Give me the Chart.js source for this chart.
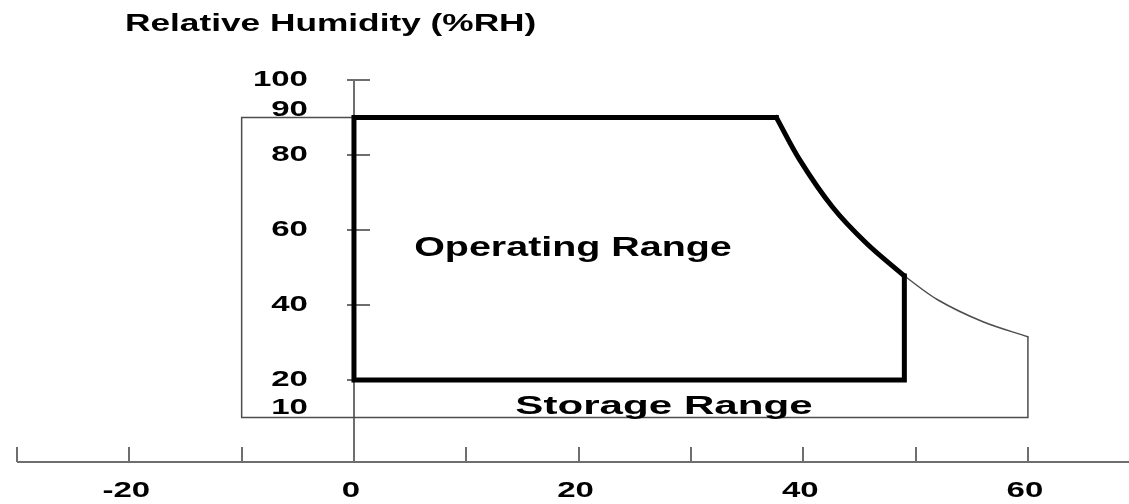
<!DOCTYPE html>
<html>
<head>
<meta charset="utf-8">
<title>Relative Humidity (%RH)</title>
<script src="https://cdn.jsdelivr.net/npm/chart.js@4"></script>
<style>
  html, body { margin: 0; padding: 0; background: #fff; }
  #wrap { width: 1129px; height: 504px; }
</style>
</head>
<body>
<div id="wrap"><canvas id="rh-chart"></canvas></div>
<script>
// Operating / storage envelope: temperature (°C) vs relative humidity (%RH)

// ── data ──────────────────────────────────────────────────────────────────────
const X_TICKS  = [-30, -20, -10, 0, 10, 20, 30, 40, 50, 60];
const X_LABELS = [-20, 0, 20, 40, 60];
const Y_TICKS  = [100, 80, 60, 40, 20];
const Y_LABELS = [100, 90, 80, 60, 40, 20, 10];

// operating range: straight edges + the dew-point curve (thick)
const opEdgeTemp  = [49, 49, 0, 0, 37.6];
const opEdgeRH    = [47.7, 20, 20, 90, 90];
const opCurveTemp = [37.6, 39.7, 42.6, 45.6, 49];
const opCurveRH   = [90, 78.6, 66.1, 56.5, 47.7];

// storage range: the parts not covered by the operating range (thin)
const stCurveTemp = [49, 52, 56, 60];
const stCurveRH   = [47.7, 41.3, 35.5, 31.5];
const stEdgeTemp  = [60, 60, -10, -10, 0];
const stEdgeRH    = [31.5, 10, 10, 90, 90];

const TITLE = 'Relative Humidity (%RH)';
const REGION_LABELS = ['Operating Range', 'Storage Range'];
const REGION_AT = [[19.5, 54.9], [27.6, 12.9]];

// ── helpers ───────────────────────────────────────────────────────────────────
const FONT = '"Liberation Sans", Arial, sans-serif';
const STRETCH = 1.5; // source lettering is ~1.5x wider than plain Arial Bold

function toPoints(xs, ys) {
    return xs.map((x, i) => ({ x, y: ys[i] }));
}

function outline(data, thick, smooth) {
    return {
        data,
        showLine: true,
        borderColor: thick ? '#000' : '#4d4d4d',
        borderWidth: thick ? 5 : 1.5,
        borderJoinStyle: 'miter',
        borderCapStyle: smooth ? 'round' : (thick ? 'square' : 'butt'),
        tension: smooth ? 0.35 : 0,
        pointRadius: 0,
        fill: false,
        order: thick ? 0 : 1
    };
}

function stretchText(ctx, text, x, y, size, sx, align) {
    ctx.save();
    ctx.font = `bold ${size}px ${FONT}`;
    ctx.fillStyle = '#000';
    ctx.textAlign = align;
    ctx.textBaseline = 'middle';
    ctx.translate(x, y);
    ctx.scale(sx, 1);
    ctx.fillText(text, 0, 0);
    ctx.restore();
}

// ── axes through the origin + labels ─────────────────────────────────────────
const crossAxes = {
    id: 'crossAxes',
    beforeDatasetsDraw(chart) {
        const { ctx, chartArea, scales: { x, y } } = chart;
        const x0 = Math.round(x.getPixelForValue(0));
        const base = Math.round(chartArea.bottom);
        ctx.save();
        ctx.strokeStyle = '#6e6e6e';
        ctx.lineWidth = 2;
        ctx.beginPath();
        ctx.moveTo(x.getPixelForValue(X_TICKS[0]), base);
        ctx.lineTo(chartArea.right, base);
        ctx.moveTo(x0, y.getPixelForValue(Y_TICKS[0]));
        ctx.lineTo(x0, base);
        X_TICKS.forEach(v => {
            const px = Math.round(x.getPixelForValue(v));
            ctx.moveTo(px, base);
            ctx.lineTo(px, base - 15);
        });
        Y_TICKS.forEach(v => {
            const py = Math.round(y.getPixelForValue(v));
            ctx.moveTo(x0 - 7, py);
            ctx.lineTo(x0 + 16, py);
        });
        ctx.stroke();
        ctx.restore();
    },
    afterDatasetsDraw(chart) {
        const { ctx, chartArea, scales: { x, y } } = chart;
        const x0 = x.getPixelForValue(0);
        const base = chartArea.bottom;

        // 90 and 10 sit on the storage outline, so their labels ride a bit higher
        const nudge = { 90: -7, 10: -9 };
        Y_LABELS.forEach(v => {
            stretchText(ctx, String(v), x0 - 46, y.getPixelForValue(v) + (nudge[v] || 0), 22, STRETCH, 'right');
        });
        X_LABELS.forEach(v => {
            stretchText(ctx, String(v), x.getPixelForValue(v) - 3, base + 29, 22, STRETCH, 'center');
        });

        stretchText(ctx, TITLE, 125, 25, 23.5, STRETCH, 'left');

        REGION_LABELS.forEach((txt, i) => {
            const [tx, ty] = REGION_AT[i];
            const big = i === 0 ? [27, 1.46] : [26.5, 1.59];
            stretchText(ctx, txt, x.getPixelForValue(tx), y.getPixelForValue(ty), big[0], big[1], 'center');
        });
    }
};

// ── chart ─────────────────────────────────────────────────────────────────────
const ctx = document.getElementById('rh-chart').getContext('2d');
new Chart(ctx, {
    type: 'scatter',
    data: {
        datasets: [
            { label: 'Operating Range', ...outline(toPoints(opEdgeTemp, opEdgeRH), true, false) },
            { label: 'Operating Range curve', ...outline(toPoints(opCurveTemp, opCurveRH), true, true) },
            { label: 'Storage Range curve', ...outline(toPoints(stCurveTemp, stCurveRH), false, true) },
            { label: 'Storage Range', ...outline(toPoints(stEdgeTemp, stEdgeRH), false, false) }
        ]
    },
    options: {
        responsive: true,
        maintainAspectRatio: false,
        animation: false,
        layout: { padding: { left: 17, right: 0, top: 78, bottom: 42 } },
        plugins: {
            legend: { display: false },
            tooltip: { enabled: false }
        },
        scales: {
            x: { type: 'linear', display: false, min: -30, max: 69 },
            y: { type: 'linear', display: false, min: -1.9, max: 100.5 }
        }
    },
    plugins: [crossAxes]
});
</script>
</body>
</html>
